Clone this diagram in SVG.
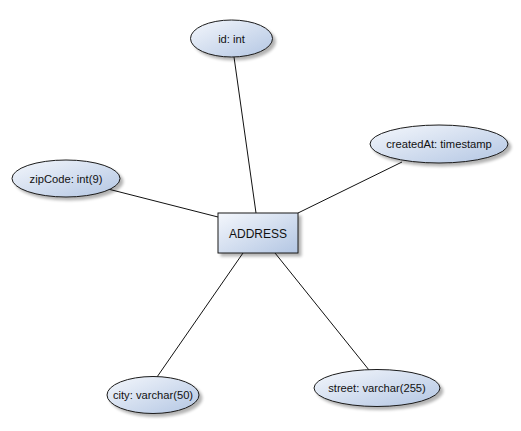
<svg xmlns="http://www.w3.org/2000/svg" width="521" height="431" viewBox="0 0 521 431">
  <defs>
    <linearGradient id="fillGrad" x1="0" y1="0" x2="1" y2="1">
      <stop offset="0" stop-color="#f4f7fc"/>
      <stop offset="1" stop-color="#b3c6e3"/>
    </linearGradient>
    <filter id="shadow" x="-20%" y="-20%" width="150%" height="160%">
      <feGaussianBlur in="SourceAlpha" stdDeviation="1.5"/>
      <feOffset dx="3" dy="3" result="off"/>
      <feComponentTransfer><feFuncA type="linear" slope="0.3"/></feComponentTransfer>
      <feMerge><feMergeNode/><feMergeNode in="SourceGraphic"/></feMerge>
    </filter>
  </defs>
  <style>
    .shape { fill: url(#fillGrad); stroke: #1a1a1a; stroke-width: 1; filter: url(#shadow); }
    .label { font-family: "Liberation Sans", Arial, sans-serif; font-size: 11.2px; fill: #111; text-anchor: middle; dominant-baseline: central; }
    .entity { font-size: 12px; }
    .edge { stroke: #111; stroke-width: 1; fill: none; }
  </style>
  <rect width="521" height="431" fill="#ffffff"/>

  <g id="connectors">
    <line class="edge" x1="234" y1="57" x2="256" y2="213"/>
    <line class="edge" x1="402" y1="162" x2="298" y2="213"/>
    <line class="edge" x1="108" y1="189" x2="218" y2="217"/>
    <line class="edge" x1="243" y1="253" x2="157" y2="377"/>
    <line class="edge" x1="275" y1="253" x2="369" y2="370"/>
  </g>

  <g id="address">
    <rect class="shape" x="218" y="213" width="80" height="40"/>
    <text class="label entity" x="258" y="234">ADDRESS</text>
  </g>

  <g id="attr-id">
    <ellipse class="shape" cx="231.5" cy="38.5" rx="41" ry="18.5"/>
    <text class="label" x="231.5" y="38.5">id: int</text>
  </g>

  <g id="attr-createdAt">
    <ellipse class="shape" cx="439" cy="144" rx="69" ry="19"/>
    <text class="label" x="439" y="144">createdAt: timestamp</text>
  </g>

  <g id="attr-zipCode">
    <ellipse class="shape" cx="66" cy="178.5" rx="54" ry="18.5"/>
    <text class="label" x="66" y="178.5">zipCode: int(9)</text>
  </g>

  <g id="attr-city">
    <ellipse class="shape" cx="153" cy="395" rx="46" ry="18.5"/>
    <text class="label" x="153" y="395">city: varchar(50)</text>
  </g>

  <g id="attr-street">
    <ellipse class="shape" cx="377" cy="388" rx="63" ry="18.5"/>
    <text class="label" x="377" y="388">street: varchar(255)</text>
  </g>
</svg>
